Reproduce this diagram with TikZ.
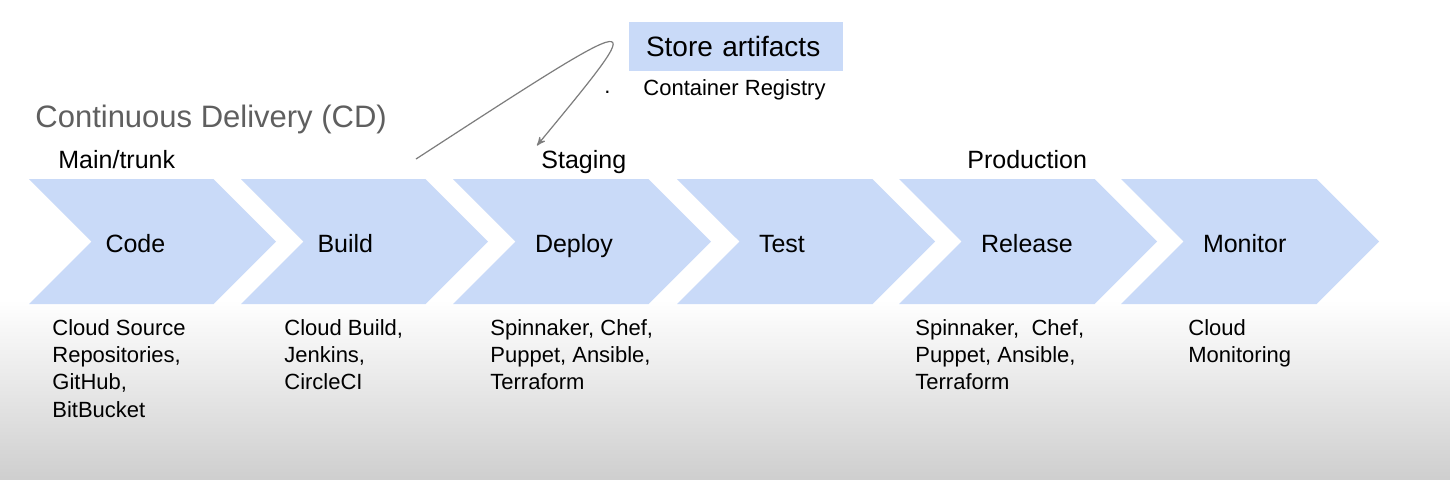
\documentclass[tikz,border=0pt]{standalone}
\usepackage{fontspec}
\setmainfont{Liberation Sans}
\usepackage{tikz}
\usepackage{xcolor}
\tikzset{font={\fontsize{12.5pt}{15}\selectfont}}
\usetikzlibrary{arrows,shapes.symbols}
\definecolor{chevblue}{RGB}{201,218,248}
\definecolor{titlegray}{RGB}{95,95,95}
\definecolor{flowgray}{RGB}{125,125,125}

\begin{document}
\begin{tikzpicture}[x=0.5pt,y=-0.5pt,>=stealth',
                    chev node/.style={shape=signal,signal from=west,signal to=east,signal pointer angle=90,
                      fill=chevblue,minimum width=129pt,minimum height=62.5pt,inner sep=0pt,
                      text width=47pt,align=left,text height=11pt,text depth=0.5pt},
                    tool node/.style={anchor=north west,align=left,inner sep=0pt,font={\fontsize{11pt}{13.65}\selectfont}},
                    stage node/.style={anchor=base west,inner sep=0pt}]

  \useasboundingbox (0,0) rectangle (1450,479);
  \fill[white] (0,0) rectangle (1450,300);
  \shade[top color=white,bottom color=black!19] (0,300) rectangle (1450,479);

  \node[chev node,minimum width=123.5pt] (code) at (152.5,241.5) {Code};
  \node[chev node,minimum width=123.5pt] (build) at (364.5,241.5) {Build};
  \node[chev node] (deploy) at (582,241.5) {Deploy};
  \node[chev node] (test) at (806,241.5) {Test};
  \node[chev node] (release) at (1028,241.5) {Release};
  \node[chev node] (monitor) at (1250,241.5) {Monitor};

  \node[stage node,text=titlegray,font={\fontsize{15.5pt}{18}\selectfont}] (title) at (35,127) {Continuous Delivery (CD)};
  \node[stage node] (trunk) at (58,168) {Main/trunk};
  \node[stage node] (staging) at (541,168) {Staging};
  \node[stage node] (production) at (967,168) {Production};

  \node[fill=chevblue,minimum height=24.5pt,text width=90pt,inner xsep=8.5pt,align=left,
        font={\fontsize{14pt}{17}\selectfont}] (store) at (736,46.5) {Store artifacts};
  \node[stage node,font={\fontsize{11pt}{13}\selectfont}] (registry) at (643,95) {Container Registry};
  \node[stage node,font={\fontsize{11pt}{13}\selectfont}] (dot) at (604,93) {.};

  \coordinate (from) at (416,159);
  \draw[->,flowgray,line width=0.6pt] (from) .. controls (653,5) and (653,5) .. ([xshift=-2pt,yshift=2pt]staging.north west);

  \node[tool node] (codetools) at (52,319) {Cloud Source\\Repositories,\\GitHub,\\BitBucket};
  \node[tool node] (buildtools) at (284,319) {Cloud Build,\\Jenkins,\\CircleCI};
  \node[tool node] (deploytools) at (490,319) {Spinnaker, Chef,\\Puppet, Ansible,\\Terraform};
  \node[tool node] (releasetools) at (915,319) {Spinnaker,\ \ Chef,\\Puppet, Ansible,\\Terraform};
  \node[tool node] (monitortools) at (1188,319) {Cloud\\Monitoring};
\end{tikzpicture}
\end{document}
